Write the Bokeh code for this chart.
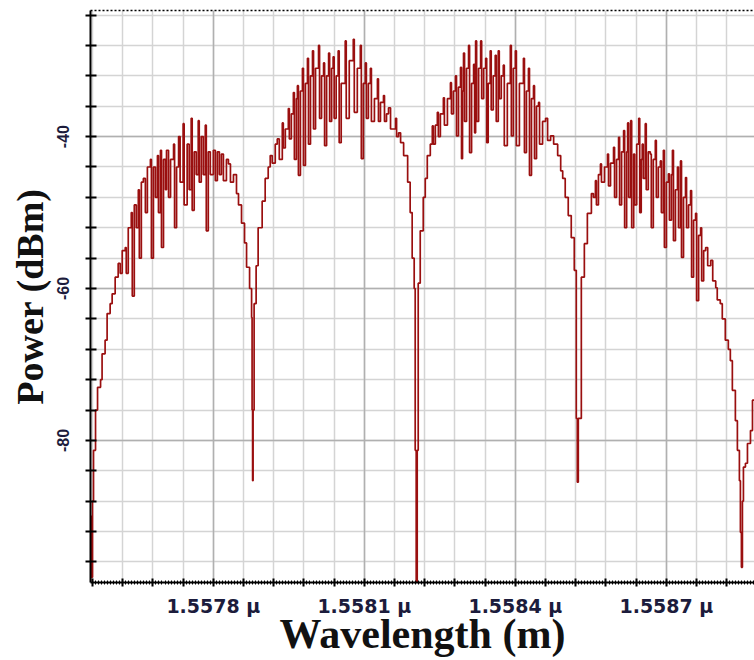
from bokeh.plotting import figure
from bokeh.models import FixedTicker, CustomJSTickFormatter, Grid, LinearAxis, Range1d
from bokeh.embed import file_html
from bokeh.resources import INLINE

# Spectrum (wavelength in nm, power in dBm)
wavelength_nm = [
    1557.554, 1557.556, 1557.558, 1557.560, 1557.562, 1557.566, 1557.570, 1557.576, 1557.579, 1557.585,
    1557.589, 1557.595, 1557.599, 1557.605, 1557.611, 1557.615, 1557.619, 1557.625, 1557.627, 1557.631,
    1557.637, 1557.639, 1557.643, 1557.647, 1557.651, 1557.653, 1557.657, 1557.661, 1557.665, 1557.669,
    1557.675, 1557.677, 1557.681, 1557.685, 1557.689, 1557.691, 1557.695, 1557.697, 1557.701, 1557.705,
    1557.707, 1557.711, 1557.715, 1557.721, 1557.723, 1557.727, 1557.731, 1557.734, 1557.740, 1557.742,
    1557.748, 1557.752, 1557.756, 1557.758, 1557.762, 1557.766, 1557.770, 1557.772, 1557.776, 1557.780,
    1557.784, 1557.786, 1557.790, 1557.794, 1557.800, 1557.804, 1557.808, 1557.812, 1557.816, 1557.820,
    1557.826, 1557.830, 1557.834, 1557.840, 1557.846, 1557.850, 1557.856, 1557.862, 1557.866, 1557.872,
    1557.876, 1557.877, 1557.878, 1557.879, 1557.881, 1557.885, 1557.889, 1557.897, 1557.903, 1557.909,
    1557.913, 1557.917, 1557.923, 1557.927, 1557.931, 1557.937, 1557.939, 1557.943, 1557.949, 1557.951,
    1557.955, 1557.959, 1557.961, 1557.965, 1557.967, 1557.969, 1557.973, 1557.977, 1557.979, 1557.983,
    1557.987, 1557.989, 1557.993, 1557.997, 1557.999, 1558.003, 1558.009, 1558.011, 1558.015, 1558.019,
    1558.021, 1558.025, 1558.029, 1558.031, 1558.035, 1558.038, 1558.040, 1558.044, 1558.048, 1558.050,
    1558.054, 1558.062, 1558.064, 1558.070, 1558.078, 1558.080, 1558.086, 1558.092, 1558.094, 1558.098,
    1558.102, 1558.104, 1558.108, 1558.112, 1558.114, 1558.120, 1558.126, 1558.128, 1558.132, 1558.138,
    1558.140, 1558.144, 1558.148, 1558.152, 1558.162, 1558.164, 1558.168, 1558.172, 1558.178, 1558.186,
    1558.191, 1558.195, 1558.199, 1558.201, 1558.203, 1558.205, 1558.207, 1558.211, 1558.217, 1558.221,
    1558.225, 1558.231, 1558.235, 1558.237, 1558.241, 1558.245, 1558.247, 1558.251, 1558.257, 1558.259,
    1558.265, 1558.271, 1558.273, 1558.277, 1558.281, 1558.283, 1558.287, 1558.291, 1558.293, 1558.295,
    1558.297, 1558.299, 1558.303, 1558.307, 1558.309, 1558.313, 1558.317, 1558.319, 1558.321, 1558.323,
    1558.327, 1558.331, 1558.333, 1558.337, 1558.341, 1558.343, 1558.346, 1558.350, 1558.352, 1558.356,
    1558.360, 1558.362, 1558.366, 1558.368, 1558.372, 1558.376, 1558.378, 1558.384, 1558.390, 1558.392,
    1558.396, 1558.400, 1558.402, 1558.408, 1558.416, 1558.418, 1558.422, 1558.426, 1558.428, 1558.432,
    1558.436, 1558.438, 1558.442, 1558.446, 1558.448, 1558.454, 1558.460, 1558.464, 1558.470, 1558.476,
    1558.484, 1558.490, 1558.494, 1558.499, 1558.505, 1558.511, 1558.517, 1558.521, 1558.523, 1558.525,
    1558.531, 1558.537, 1558.543, 1558.551, 1558.555, 1558.559, 1558.561, 1558.565, 1558.569, 1558.571,
    1558.577, 1558.583, 1558.585, 1558.589, 1558.595, 1558.597, 1558.601, 1558.605, 1558.607, 1558.611,
    1558.615, 1558.617, 1558.621, 1558.623, 1558.625, 1558.629, 1558.631, 1558.635, 1558.637, 1558.641,
    1558.645, 1558.647, 1558.650, 1558.652, 1558.654, 1558.658, 1558.660, 1558.664, 1558.668, 1558.670,
    1558.674, 1558.678, 1558.680, 1558.684, 1558.688, 1558.690, 1558.694, 1558.696, 1558.700, 1558.704,
    1558.706, 1558.710, 1558.712, 1558.714, 1558.718, 1558.722, 1558.724, 1558.728, 1558.730, 1558.734,
    1558.738, 1558.740, 1558.744, 1558.748, 1558.750, 1558.754, 1558.758, 1558.760, 1558.764, 1558.768,
    1558.770, 1558.774, 1558.778, 1558.782, 1558.788, 1558.792, 1558.798, 1558.801, 1558.807, 1558.811,
    1558.817, 1558.823, 1558.827, 1558.831, 1558.837, 1558.841, 1558.845, 1558.847, 1558.849, 1558.851,
    1558.853, 1558.857, 1558.861, 1558.867, 1558.871, 1558.877,
]

power_dbm = [
    -98.5, -90.0, -98.0, -88.0, -81.3, -76.0, -73.0, -72.0, -68.6, -66.8,
    -63.3, -62.0, -60.7, -58.5, -56.7, -58.0, -55.0, -54.6, -58.0, -52.0,
    -50.0, -61.0, -49.0, -52.0, -47.0, -56.0, -46.0, -45.5, -50.0, -44.0,
    -43.0, -56.0, -44.0, -48.0, -42.5, -50.0, -41.8, -54.6, -43.0, -47.0,
    -41.8, -48.0, -43.0, -41.0, -52.0, -44.0, -40.0, -46.0, -38.3, -49.0,
    -41.0, -47.0, -37.6, -49.7, -42.0, -45.0, -37.9, -46.0, -40.0, -45.0,
    -38.5, -52.4, -42.0, -45.0, -41.8, -45.8, -42.0, -45.0, -42.3, -45.8,
    -43.0, -43.6, -46.0, -45.0, -47.5, -49.0, -51.4, -54.0, -57.2, -60.0,
    -63.8, -76.0, -85.3, -76.0, -62.0, -57.0, -52.0, -48.5, -45.5, -44.0,
    -42.5, -43.5, -41.0, -40.3, -43.0, -38.2, -41.5, -39.0, -36.3, -40.3,
    -37.0, -34.2, -43.0, -35.0, -33.3, -45.1, -34.0, -31.0, -43.8, -33.0,
    -29.7, -41.0, -32.0, -28.7, -39.0, -31.0, -28.0, -37.6, -32.0, -30.3,
    -41.2, -32.0, -29.0, -38.0, -31.0, -29.5, -37.6, -32.0, -28.7, -40.8,
    -33.0, -27.4, -37.6, -30.0, -27.2, -36.8, -31.0, -28.0, -42.9, -33.0,
    -30.3, -37.6, -33.0, -31.0, -38.0, -35.0, -32.4, -38.0, -35.5, -34.6,
    -38.0, -37.0, -36.2, -39.0, -37.6, -40.0, -39.5, -40.8, -42.5, -46.0,
    -50.0, -56.0, -60.0, -81.3, -98.7, -81.3, -59.3, -52.4, -48.0, -45.5,
    -42.5, -41.0, -38.6, -41.0, -38.5, -36.8, -40.0, -37.0, -34.9, -38.5,
    -35.0, -32.9, -37.0, -34.0, -32.0, -39.9, -33.5, -30.9, -42.9, -34.0,
    -29.0, -38.0, -31.0, -28.0, -42.1, -33.0, -30.5, -39.5, -27.4, -38.0,
    -31.0, -27.4, -35.0, -31.0, -29.7, -40.8, -33.0, -28.7, -36.5, -32.0,
    -29.3, -38.0, -28.7, -35.0, -32.0, -30.6, -41.2, -33.0, -28.0, -39.9,
    -31.0, -28.7, -41.2, -33.0, -29.7, -42.1, -34.0, -31.0, -45.1, -35.0,
    -33.3, -42.9, -36.0, -35.5, -41.0, -38.0, -37.6, -40.5, -39.9, -41.0,
    -42.5, -44.5, -45.5, -48.0, -50.4, -53.3, -57.6, -77.1, -85.5, -77.1,
    -58.5, -54.1, -50.1, -47.5, -48.0, -45.8, -49.0, -45.0, -43.6, -46.0,
    -44.0, -42.3, -46.5, -43.5, -41.4, -48.0, -43.0, -40.1, -49.0, -42.0,
    -39.2, -52.0, -42.0, -38.2, -48.0, -37.9, -52.0, -42.3, -49.0, -41.0,
    -37.6, -50.0, -43.0, -41.0, -45.5, -38.3, -47.0, -42.0, -42.3, -52.0,
    -43.0, -40.5, -48.0, -44.0, -43.2, -50.0, -41.8, -54.6, -46.0, -44.9,
    -51.0, -45.0, -41.8, -53.7, -47.0, -44.0, -52.0, -43.2, -55.9, -48.0,
    -45.4, -52.0, -49.0, -47.1, -58.5, -51.0, -50.1, -61.6, -53.0, -52.0,
    -59.0, -55.0, -54.6, -57.0, -56.3, -59.0, -59.9, -61.5, -62.0, -64.0,
    -66.8, -68.0, -69.5, -73.4, -77.4, -81.3, -85.3, -92.1, -96.7, -88.0,
    -83.5, -83.0, -80.4, -78.7, -74.7, -70.0,
]

x_labelled_ticks_nm = [1557.8, 1558.1, 1558.4, 1558.7]
y_labelled_ticks = [-40, -60, -80]
x_title = "Wavelength (m)"
y_title = "Power (dBm)"

x_start, x_end = 1557.556, 1558.875
y_start, y_end = -98.7, -23.4

x_major = [round(1557.8 + 0.06 * k, 3) for k in range(-4, 19)]
x_minor = [round(1557.5 + 0.006 * k, 3) for k in range(0, 240)]
y_major = [-96 + 4 * k for k in range(0, 19)]

p = figure(width=754, height=660, output_backend="svg", toolbar_location=None,
           x_range=Range1d(x_start, x_end), y_range=Range1d(y_start, y_end),
           min_border_left=90, min_border_right=0, min_border_top=10,
           min_border_bottom=78, background_fill_color="white",
           border_fill_color="white", outline_line_color=None)

p.xgrid.visible = False
p.ygrid.visible = False
p.add_layout(Grid(dimension=0, ticker=FixedTicker(ticks=x_major),
                  grid_line_color="#d4d4d4", grid_line_width=1.5))
p.add_layout(Grid(dimension=1, ticker=FixedTicker(ticks=y_major),
                  grid_line_color="#d4d4d4", grid_line_width=1.5))
p.add_layout(Grid(dimension=0, ticker=FixedTicker(ticks=x_labelled_ticks_nm),
                  grid_line_color="#b0b0b0", grid_line_width=1.5))
p.add_layout(Grid(dimension=1, ticker=FixedTicker(ticks=y_labelled_ticks),
                  grid_line_color="#b0b0b0", grid_line_width=1.5))

p.step(wavelength_nm, power_dbm, mode="after", line_color="#9a0f0f", line_width=1.7)

# x axis
xa = p.xaxis[0]
xa.ticker = FixedTicker(ticks=x_major, minor_ticks=x_minor)
xa.formatter = CustomJSTickFormatter(code="""
    const r = (tick - 1557.8) / 0.3;
    if (Math.abs(r - Math.round(r)) < 1e-3) { return (tick / 1000).toFixed(4) + " \u03bc"; }
    return "";
""")
xa.axis_line_width = 2
xa.axis_line_color = "black"
xa.major_tick_in = 4
xa.major_tick_out = 4
xa.major_tick_line_width = 2
xa.minor_tick_in = 2
xa.minor_tick_out = 2
xa.minor_tick_line_width = 1
xa.major_label_text_font = "DejaVu Sans"
xa.major_label_text_font_style = "bold"
xa.major_label_text_font_size = "19px"
xa.major_label_text_color = "#1c1c3c"
xa.major_label_standoff = 8
xa.axis_label = x_title
xa.axis_label_text_font = "Liberation Serif"
xa.axis_label_text_font_style = "bold"
xa.axis_label_text_font_size = "42px"
xa.axis_label_text_color = "#111111"
xa.axis_label_standoff = -9

# y axis
ya = p.yaxis[0]
ya.ticker = FixedTicker(ticks=y_major)
ya.formatter = CustomJSTickFormatter(code="""
    if (Math.abs(tick % 20) < 1e-6) { return tick.toFixed(0); }
    return "";
""")
ya.axis_line_width = 2
ya.axis_line_color = "black"
ya.major_tick_in = 6
ya.major_tick_out = 5
ya.major_tick_line_width = 2
ya.minor_tick_line_color = None
ya.major_label_orientation = "vertical"
ya.major_label_text_font = "Liberation Sans"
ya.major_label_text_font_style = "bold"
ya.major_label_text_font_size = "16px"
ya.major_label_text_color = "#1c1c3c"
ya.major_label_standoff = 16
ya.axis_label = y_title
ya.axis_label_text_font = "Liberation Serif"
ya.axis_label_text_font_style = "bold"
ya.axis_label_text_font_size = "38px"
ya.axis_label_text_color = "#111111"
ya.axis_label_standoff = 4

# dotted top border
top = LinearAxis(ticker=FixedTicker(ticks=[]), axis_line_dash="2 2", axis_line_width=1.5,
                 axis_line_color="black", major_tick_line_color=None,
                 minor_tick_line_color=None, major_label_text_font_size="0px",
                 major_label_standoff=0)
p.add_layout(top, "above")

open("out.html", "w").write(file_html(p, INLINE))
